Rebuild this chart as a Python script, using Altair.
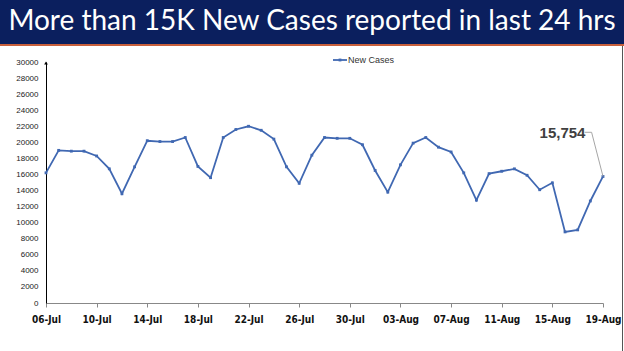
import altair as alt
import pandas as pd

dates = ["06-Jul","07-Jul","08-Jul","09-Jul","10-Jul","11-Jul","12-Jul","13-Jul","14-Jul","15-Jul",
         "16-Jul","17-Jul","18-Jul","19-Jul","20-Jul","21-Jul","22-Jul","23-Jul","24-Jul","25-Jul",
         "26-Jul","27-Jul","28-Jul","29-Jul","30-Jul","31-Jul","01-Aug","02-Aug","03-Aug","04-Aug",
         "05-Aug","06-Aug","07-Aug","08-Aug","09-Aug","10-Aug","11-Aug","12-Aug","13-Aug","14-Aug",
         "15-Aug","16-Aug","17-Aug","18-Aug","19-Aug"]
cases = [16200, 19000, 18900, 18900, 18300, 16700, 13600, 16950, 20200, 20100,
         20100, 20600, 17000, 15600, 20600, 21600, 22000, 21500, 20400, 16950,
         14900, 18400, 20600, 20500, 20500, 19700, 16500, 13800, 17200, 19900,
         20600, 19400, 18800, 16200, 12800, 16100, 16400, 16700, 15900, 14100,
         14960, 8850, 9100, 12700, 15754]
tick_idx = [0, 4, 8, 12, 16, 20, 24, 28, 32, 36, 40, 44]
y_ticks = list(range(0, 30001, 2000))
title_text = "More than 15K New Cases reported in last 24 hrs"
annot_text = "15,754"
annot_pos = {"idx": 40.8, "val": 21150}
leader_idx = [42.55, 43.1, 44]
leader_val = [21250, 21250, 15754]

df = pd.DataFrame({"idx": list(range(len(dates))), "date": dates, "cases": cases})
label_map = "{" + ",".join(f"'{i}':'{dates[i]}'" for i in tick_idx) + "}"

W, H = 557, 241
PL, PT = 46, 62
COLOR = "#4068B2"

xs = alt.Scale(domain=[0, 44], nice=False, zero=False)
ys = alt.Scale(domain=[0, 30000], nice=False)
x_axis = alt.Axis(
    values=tick_idx, labelExpr=f"{label_map}[toString(datum.value)]",
    title=None, grid=False, domainColor="#888888", tickColor="#888888",
    tickSize=4, labelFontWeight="bold", labelFontSize=10, labelColor="#111111",
    labelFont="DejaVu Sans Condensed", labelPadding=7, labelFlush=False,
    labelOverlap=False)
y_axis = alt.Axis(
    values=y_ticks, format="d", title=None, grid=False,
    domainColor="#000000", ticks=False,
    labelFontSize=8, labelColor="#222222", labelFont="Liberation Sans", labelPadding=8,
    labelOverlap=False)


def X(f):
    return alt.X(f, scale=xs, axis=x_axis)


def Y(f):
    return alt.Y(f, scale=ys, axis=y_axis)


line = alt.Chart(df).mark_line(color=COLOR, strokeWidth=1.8).encode(
    x=X("idx:Q"), y=Y("cases:Q"))
pts = alt.Chart(df).mark_point(color=COLOR, filled=True, shape="square", size=8, opacity=1).encode(
    x=X("idx:Q"), y=Y("cases:Q"))

arrow = alt.Chart(pd.DataFrame({"a": [0]})).mark_point(
    shape="triangle-up", filled=True, color="black", size=14, opacity=1).encode(
    x=alt.value(0), y=alt.value(1))

adf = pd.DataFrame({"idx": [annot_pos["idx"]], "val": [annot_pos["val"]], "t": [annot_text]})
annot = alt.Chart(adf).mark_text(fontSize=15, fontWeight="bold", color="#404040",
                                 font="Liberation Sans", align="center", baseline="middle").encode(
    x=X("idx:Q"), y=Y("val:Q"), text="t:N")
ldf = pd.DataFrame({"idx": leader_idx, "val": leader_val, "o": [0, 1, 2]})
leader = alt.Chart(ldf).mark_line(color="#A6A6A6", strokeWidth=1).encode(
    x=X("idx:Q"), y=Y("val:Q"), order="o:O")

one = pd.DataFrame({"a": [0]})
title_bg = alt.Chart(one).mark_rect(color="#0B1F5E").encode(
    x=alt.value(-PL), x2=alt.value(624 - PL), y=alt.value(-PT), y2=alt.value(44 - PT))
title_line = alt.Chart(one).mark_rect(color="#C8603C").encode(
    x=alt.value(-PL), x2=alt.value(624 - PL), y=alt.value(44 - PT), y2=alt.value(46 - PT))
title_txt = alt.Chart(pd.DataFrame({"t": [title_text]})).mark_text(
    color="white", fontSize=28, font="Lato", align="center", baseline="middle").encode(
    x=alt.value(312 - PL), y=alt.value(22 - PT), text="t:N")
border = alt.Chart(one).mark_rule(color="#555555", strokeWidth=1).encode(
    x=alt.value(622.5 - PL), y=alt.value(46 - PT), y2=alt.value(351 - PT))

leg_line = alt.Chart(one).mark_rule(color=COLOR, strokeWidth=1.8).encode(
    x=alt.value(333 - PL), x2=alt.value(347 - PL), y=alt.value(60 - PT))
leg_pt = alt.Chart(one).mark_point(color=COLOR, filled=True, shape="square", size=8, opacity=1).encode(
    x=alt.value(340 - PL), y=alt.value(60 - PT))
leg_txt = alt.Chart(pd.DataFrame({"t": ["New Cases"]})).mark_text(
    fontSize=9, color="#333333", font="Liberation Sans", align="left", baseline="middle").encode(
    x=alt.value(348 - PL), y=alt.value(60 - PT), text="t:N")

chart = alt.layer(title_bg, title_line, title_txt, border, line, pts, arrow, leader, annot,
                  leg_line, leg_pt, leg_txt).properties(
    width=W, height=H,
    autosize=alt.AutoSizeParams(type="none"),
    padding={"left": PL, "top": PT, "right": 624 - PL - W, "bottom": 351 - PT - H},
    background="white",
).configure_view(stroke=None)

chart.save("out.html", embed_options={"renderer": "svg", "actions": False})
